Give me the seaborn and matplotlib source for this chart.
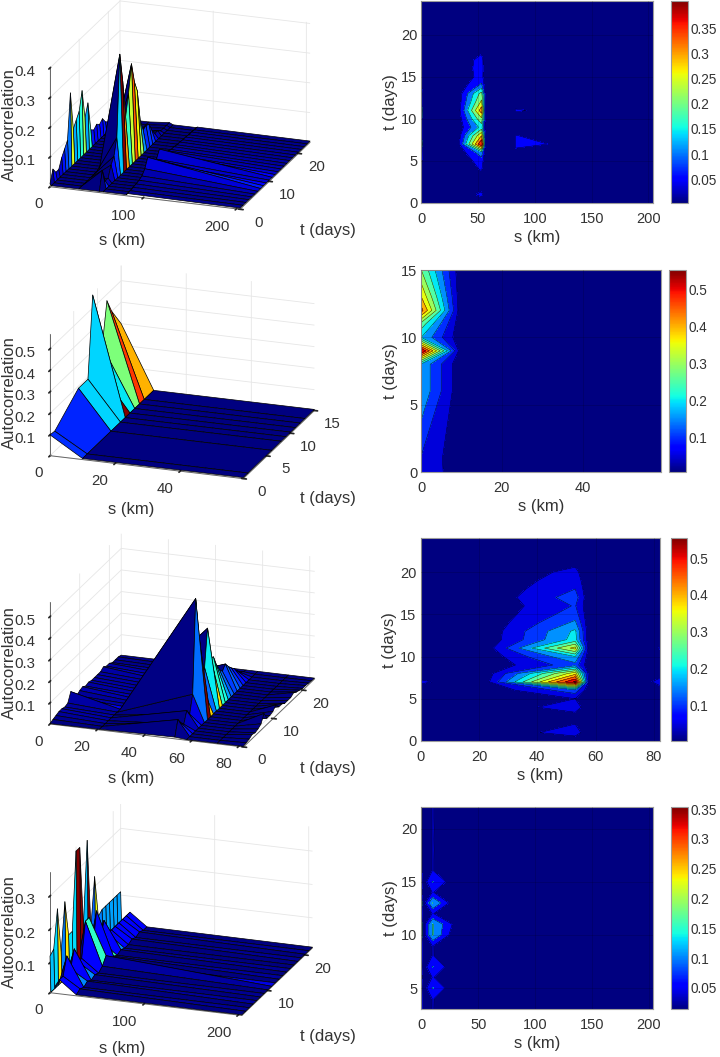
import numpy as np
import matplotlib
matplotlib.use("Agg")
import matplotlib.pyplot as plt
import seaborn as sns
from matplotlib.cm import ScalarMappable
from matplotlib.colors import Normalize
from mpl_toolkits.mplot3d import proj3d

W, H = 720, 1057
INK = "#333333"

# panel 1
P1_S = [0, 1.5, 31, 53, 57, 82, 83, 204]
P1_T = list(range(25))
P1_AT_0 = [.01, .05, .03, .03, .06, .08, .1, .25, .12, .14, .16, .22, .12, .16, .06, .05, .06, .05, .06, .04, .03, .01, .01, .01, .01]
P1_AT_53 = [.004, .065, .02, .02, .055, .075, .13, .40, .3, .17, .24, .33, .26, .22, .11, .07, .075, .07, .04, .02, .02, .01, .01, .01, .01]
P1_AT_83 = [.008, .008, .01, .012, .015, .02, .035, .064, .051, .03, .03, .054, .03, .02, .02, .015, .015, .012, .012, .01, .01, .008, .008, .006, .006]
P1_BASE = .004

# panel 2
P2_S = [0, 10, 59.4]
P2_T = [0, 1, 6, 8, 9, 10, 11, 12, 13, 15]
P2_AT_0 = [.1, .096, .19, .19, .56, .2, .28, .47, .4, .3]
P2_BASE = .008

# panel 3
P3_S = [0, 21, 53, 58, 71, 82]
P3_T = list(range(25))
P3_AT_0 = [.004, .01, .015, .02, .02, .015, .02, .06, .02, .015, .025, .03, .02, .025, .02, .02, .02, .02, .03, .02, .02, .01, .01, .01, .005]
P3_AT_53 = [.01, .078, .05, .03, .08, .05, .13, .56, .38, .13, .2, .37, .22, .21, .16, .125, .104, .125, .1, .08, .064, .04, .02, .01, .005]
P3_AT_82 = [.005, .008, .012, .02, .015, .02, .03, .065, .03, .03, .035, .052, .03, .03, .02, .02, .02, .03, .02, .015, .01, .01, .008, .006, .005]
P3_BASE = .005

# panel 4
P4_S = [0, 1, 10, 28, 204]
P4_T = list(range(3, 23))
P4_AT_0 = [.12, .13, .24, .1, .24, .13, .13, .36, .36, .12, .36, .09, .23, .10, .11, .11, .11, .11, .11, .11]
P4_AT_10 = [.052, .052, .102, .052, .102, .052, .052, .153, .153, .052, .152, .052, .102, .052, .052, .052, .052, .052, .052, .052]
P4_AT_28 = [.013, .02, .014, .022, .014, .02, .014, .024, .045, .014, .022, .014, .02, .014, .014, .02, .014, .02, .014, .014]
P4_BASE = .012

# axes settings
S_LIMS = [204, 59.4, 82.1, 204]
T_LIMS = [(0, 24), (0, 15), (0, 24), (3, 22)]
Z_LIMS = [(0, .404), (.003, .57), (.002, .568), (.01, .373)]
C_LIMS = [(.003, .404), (.0074, .552), (.002, .5545), (.014, .353)]
S_TICKS_3D = [[0, 100, 200], [0, 20, 40], [0, 20, 40, 60, 80], [0, 100, 200]]
T_TICKS_3D = [[0, 10, 20], [0, 5, 10, 15], [0, 10, 20], [10, 20]]
Z_TICKS = [[.1, .2, .3, .4], [.1, .2, .3, .4, .5], [.1, .2, .3, .4, .5], [.1, .2, .3]]
S_TICKS_2D = [[0, 50, 100, 150, 200], [0, 20, 40], [0, 20, 40, 60, 80], [0, 50, 100, 150, 200]]
T_TICKS_2D = [[0, 5, 10, 15, 20], [0, 5, 10, 15], [0, 5, 10, 15, 20], [5, 10, 15, 20]]
C_TICKS = [[.05, .1, .15, .2, .25, .3, .35], [.1, .2, .3, .4, .5], [.1, .2, .3, .4, .5], [.05, .1, .15, .2, .25, .3, .35]]
C_LABELS = [["0.05", "0.1", "0.15", "0.2", "0.25", "0.3", "0.35"],
            ["0.1", "0.2", "0.3", "0.4", "0.5"],
            ["0.1", "0.2", "0.3", "0.4", "0.5"],
            ["0.05", "0.1", "0.15", "0.2", "0.25", "0.3", "0.35"]]
LEVEL_STEP = .05

# pixel boxes: origin and end of the s axis for 3D, left/top/right/bottom for 2D
BOX_3D = [((50, 186.7), (240, 210)), ((50, 455.7), (243.3, 478.3)), ((50, 724), (243.3, 748.3)), ((50, 992.7), (241.7, 1016.7))]
BOX_2D = [(421.3, 1, 653, 203), (421.3, 270, 660.7, 472), (420.7, 538.3, 660, 741), (421.3, 807.3, 653.3, 1009.3)]
BOX_CB = [(670.7, 688.3), (669, 686.3), (670.7, 687.3), (670.7, 688.3)]
LABELS_3D = [((9, 125), (122, 241), (328, 231)), ((9, 393), (131, 509), (328, 499)),
             ((9, 663), (131, 779), (328, 769)), ((9, 932), (122, 1048), (328, 1037))]

sns.set_theme(style="white", rc={"grid.color": "#e6e6e6", "grid.linewidth": .6,
                                 "xtick.major.size": 2, "ytick.major.size": 2})
plt.rcParams["font.family"] = ["Liberation Sans", "DejaVu Sans"]
jet = matplotlib.colormaps["jet"]


def make_grid(s, t, base, columns):
    z = np.full((len(t), len(s)), base, dtype=float)
    for pos, values in columns.items():
        z[:, s.index(pos)] = values
    return z


def px_rect(left, top, right, bottom):
    return [left / W, 1 - bottom / H, (right - left) / W, (bottom - top) / H]


def place_box(ax, origin, s_end, lims):
    # move the 3D axes so the front edge of the box lands on the given pixels
    sx, tx, zx = lims
    xs, ys, _ = proj3d.proj_transform([sx[0], sx[1]], [tx[0], tx[0]], [zx[0], zx[0]], ax.get_proj())
    pts = ax.transData.transform(np.column_stack([xs, ys]))
    pts[:, 1] = H - pts[:, 1]
    bb = ax.get_position()
    side = bb.width * W
    cen = np.array([bb.x0 + bb.width / 2, 1 - (bb.y0 + bb.height / 2)]) * [W, H]
    k = np.hypot(*(np.array(s_end) - origin)) / np.hypot(*(pts[1] - pts[0]))
    new_cen = np.array(origin) - (pts[0] - cen) * k
    new_side = side * k
    ax.set_position(px_rect(new_cen[0] - new_side / 2, new_cen[1] - new_side / 2,
                            new_cen[0] + new_side / 2, new_cen[1] + new_side / 2))


def draw_surface(fig, i, s, t, z):
    ax = fig.add_axes(px_rect(20, 20, 320, 320), projection="3d", proj_type="ortho")
    ax.patch.set_alpha(0)
    sx, tx, zx = (0, S_LIMS[i]), T_LIMS[i], Z_LIMS[i]
    ax.view_init(elev=19.7, azim=-70.6)
    ax.set_box_aspect((201.5, 210.7, 127.4))
    ax.set_xlim(*sx)
    ax.set_ylim(*tx)
    ax.set_zlim(*zx)
    norm = Normalize(*C_LIMS[i])
    X, Y = np.meshgrid(s, t)
    surf = ax.plot_surface(X, Y, z, rstride=1, cstride=1, facecolors=jet(norm(z)), shade=False)
    surf.set_edgecolor("black")
    surf.set_linewidth(.5)
    ax.set_xticks(S_TICKS_3D[i])
    ax.set_yticks(T_TICKS_3D[i])
    ax.set_zticks(Z_TICKS[i])
    ax.zaxis.set_ticks_position("lower")
    for axis in (ax.xaxis, ax.yaxis, ax.zaxis):
        axis.set_pane_color((1, 1, 1, 0))
        axis.pane.set_edgecolor("none")
        axis.line.set_color("#666666")
        axis.line.set_linewidth(.7)
    ax.tick_params(labelsize=10.8, labelcolor=INK, pad=3)
    for axis in (ax.xaxis, ax.yaxis, ax.zaxis):
        for lab in axis.get_ticklabels():
            lab.set_va("center")
    for lab in ax.xaxis.get_ticklabels():
        lab.set_ha("right")
    ax.grid(True)
    place_box(ax, BOX_3D[i][0], BOX_3D[i][1], (sx, tx, zx))
    (zl, sl, tl) = LABELS_3D[i]
    fig.text(zl[0] / W, 1 - zl[1] / H, "Autocorrelation", rotation=90, ha="center", va="center", fontsize=12, color=INK)
    fig.text(sl[0] / W, 1 - sl[1] / H, "s (km)", ha="center", va="center", fontsize=12, color=INK)
    fig.text(tl[0] / W, 1 - tl[1] / H, "t (days)", ha="center", va="center", fontsize=12, color=INK)


def draw_contour(fig, i, s, t, z):
    ax = fig.add_axes(px_rect(*BOX_2D[i]))
    norm = Normalize(*C_LIMS[i])
    levels = [0] + list(np.arange(LEVEL_STEP, z.max() + LEVEL_STEP, LEVEL_STEP))
    band_colors = [jet(norm(lv)) for lv in levels[:-1]]
    ax.contourf(s, t, z, levels=levels, colors=band_colors)
    ax.contour(s, t, z, levels=levels[1:], colors="black", linewidths=.35, alpha=.85)
    ax.set_xlim(0, S_LIMS[i])
    ax.set_ylim(*T_LIMS[i])
    ax.set_xticks(S_TICKS_2D[i])
    ax.set_yticks(T_TICKS_2D[i])
    ax.set_axisbelow(False)
    ax.grid(True, color="black", alpha=.17, linewidth=.6)
    ax.tick_params(direction="in", length=2, color="#888888", labelsize=10.5, labelcolor=INK)
    ax.tick_params(axis="x", pad=6.5)
    ax.tick_params(axis="y", pad=3)
    for spine in ax.spines.values():
        spine.set_color("#9c9c9c")
        spine.set_linewidth(.8)
    ax.set_xlabel("s (km)", fontsize=12, color=INK, labelpad=3)
    ax.set_ylabel("t (days)", fontsize=12, color=INK, labelpad=2)

    left, right = BOX_CB[i]
    cax = fig.add_axes(px_rect(left, BOX_2D[i][1], right, BOX_2D[i][3]))
    cbar = fig.colorbar(ScalarMappable(norm=norm, cmap=jet), cax=cax, ticks=C_TICKS[i])
    cbar.ax.set_yticklabels(C_LABELS[i])
    cbar.ax.tick_params(direction="in", length=2, color="#888888", labelsize=9.8, labelcolor=INK, pad=1.5)
    cbar.outline.set_edgecolor("#9c9c9c")
    cbar.outline.set_linewidth(.8)


if __name__ == "__main__":
    panels = [
        (P1_S, P1_T, make_grid(P1_S, P1_T, P1_BASE, {0: P1_AT_0, 53: P1_AT_53, 83: P1_AT_83})),
        (P2_S, P2_T, make_grid(P2_S, P2_T, P2_BASE, {0: P2_AT_0})),
        (P3_S, P3_T, make_grid(P3_S, P3_T, P3_BASE, {0: P3_AT_0, 53: P3_AT_53, 82: P3_AT_82})),
        (P4_S, P4_T, make_grid(P4_S, P4_T, P4_BASE, {0: P4_AT_0, 10: P4_AT_10, 28: P4_AT_28})),
    ]
    fig = plt.figure(figsize=(W / 100, H / 100), dpi=100, facecolor="white")
    for i, (s, t, z) in enumerate(panels):
        draw_surface(fig, i, s, t, z)
        draw_contour(fig, i, s, t, z)
    fig.savefig("out.png", dpi=100)
